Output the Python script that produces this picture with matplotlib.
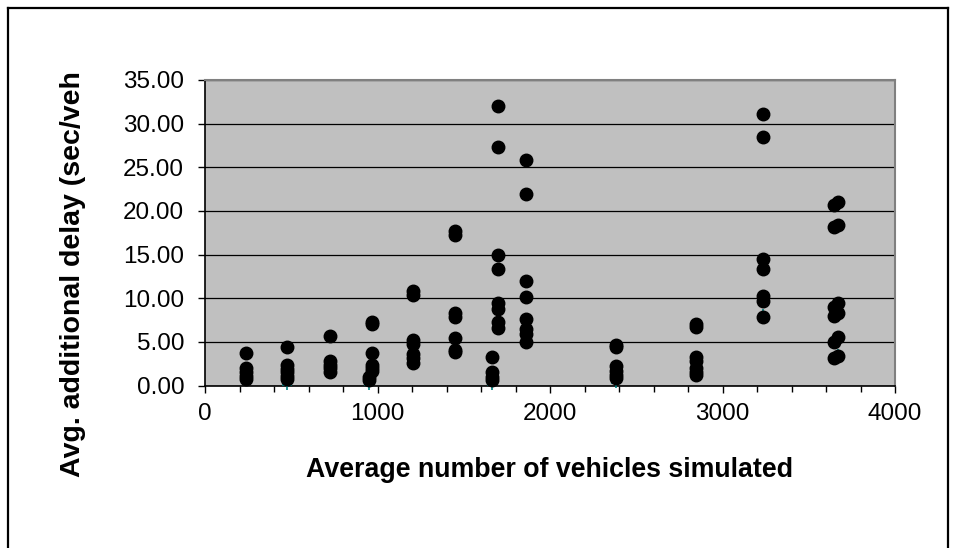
import matplotlib
matplotlib.use("Agg")
import matplotlib.pyplot as plt
from matplotlib.lines import Line2D
from matplotlib.transforms import Bbox
from matplotlib.ticker import MultipleLocator, FormatStrFormatter

plt.rcParams['font.family'] = ['Liberation Sans', 'DejaVu Sans']

# average number of vehicles simulated (x) and avg. additional delay (y)
x_236 = [236] * 5
y_236 = [3.75, 1.95, 1.5, 1.1, 0.8]
x_474 = [474] * 6
y_474 = [4.4, 2.3, 1.9, 1.5, 1.1, 0.7]
x_725 = [725] * 5
y_725 = [5.7, 2.8, 2.4, 2.0, 1.6]
x_950 = [950] * 2
y_950 = [1.0, 0.6]
x_968 = [968] * 6
y_968 = [7.3, 7.1, 3.7, 2.4, 2.0, 1.7]
x_1208 = [1208] * 7
y_1208 = [10.8, 10.4, 5.2, 4.8, 3.6, 3.1, 2.6]
x_1451 = [1451] * 7
y_1451 = [17.7, 17.2, 8.3, 7.8, 5.4, 4.1, 3.8]
x_1664 = [1664] * 4
y_1664 = [3.3, 1.5, 1.0, 0.6]
x_1697 = [1697] * 8
y_1697 = [32.0, 27.3, 15.0, 13.4, 9.5, 8.8, 7.3, 6.6]
x_1859 = [1859] * 8
y_1859 = [25.8, 21.9, 12.0, 10.1, 7.6, 6.5, 5.9, 5.0]
x_2381 = [2381] * 6
y_2381 = [4.6, 4.4, 2.2, 1.7, 1.2, 0.9]
x_2845 = [2845] * 7
y_2845 = [7.0, 6.7, 3.3, 2.8, 2.0, 1.5, 1.2]
x_3237 = [3237] * 7
y_3237 = [31.1, 28.5, 14.5, 13.4, 10.2, 9.7, 7.9]
x_3645 = [3645] * 6
y_3645 = [20.7, 18.2, 9.0, 8.0, 5.0, 3.2]
x_3668 = [3668] * 6
y_3668 = [21.0, 18.4, 9.5, 8.3, 5.6, 3.4]

# small teal markers (second series), mostly hidden behind the dots
x_teal = [474, 950, 1664, 2381, 2845, 3237, 3668]
y_teal = [0.05, 0.05, 0.05, 0.3, 1.2, 8.2, 3.6]

x_all = (x_236 + x_474 + x_725 + x_950 + x_968 + x_1208 + x_1451 + x_1664
         + x_1697 + x_1859 + x_2381 + x_2845 + x_3237 + x_3645 + x_3668)
y_all = (y_236 + y_474 + y_725 + y_950 + y_968 + y_1208 + y_1451 + y_1664
         + y_1697 + y_1859 + y_2381 + y_2845 + y_3237 + y_3645 + y_3668)

W, H = 956, 548
fig = plt.figure(figsize=(W / 100, H / 100), dpi=100)

ax = fig.add_axes([205 / W, 1 - 385.5 / H, 690 / W, 305.5 / H])
ax.set_facecolor('#c0c0c0')

ax.plot(x_teal, y_teal, linestyle='none', marker='+', markersize=7,
        markeredgewidth=1.2, color='#008080', zorder=3, clip_on=False)
ax.plot(x_all, y_all, linestyle='none', marker='o', markersize=9,
        color='black', zorder=4, clip_on=False)

ax.set_xlim(0, 4000)
ax.set_ylim(0, 35)
ax.xaxis.set_major_locator(MultipleLocator(1000))
ax.xaxis.set_minor_locator(MultipleLocator(200))
ax.yaxis.set_major_locator(MultipleLocator(5))
ax.yaxis.set_major_formatter(FormatStrFormatter('%.2f'))

ax.set_axisbelow(True)
ax.yaxis.grid(True, color='black', linewidth=0.9)

for s in ['top', 'right']:
    ax.spines[s].set_color('#808080')
    ax.spines[s].set_linewidth(1.5)
for s in ['left', 'bottom']:
    ax.spines[s].set_color('black')
    ax.spines[s].set_linewidth(1.2)

ax.tick_params(axis='y', which='major', direction='out', length=5, width=1,
               pad=10, labelsize=17.5)
ax.tick_params(axis='x', which='major', direction='out', length=5, width=1,
               pad=7.5, labelsize=17.5)
ax.tick_params(axis='x', which='minor', direction='out', length=4, width=1)

fig.text(550 / W, 1 - 470 / H, 'Average number of vehicles simulated',
         ha='center', va='center', fontsize=19.3, fontweight='bold')

ylab = fig.text(73 / W, 1 - 477 / H, 'Avg. additional delay (sec/veh)',
                rotation=90, rotation_mode='anchor', ha='left', va='center',
                fontsize=20.5, fontweight='bold')
ylab.set_clip_box(Bbox.from_extents(0, 0, W, H - 72))
ylab.set_clip_on(True)

# outer frame of the chart (bottom edge is off the picture)
fig.add_artist(Line2D([8 / W, 8 / W], [0, 1 - 8 / H], transform=fig.transFigure,
                      color='black', linewidth=1.6))
fig.add_artist(Line2D([8 / W, 948 / W], [1 - 8 / H, 1 - 8 / H], transform=fig.transFigure,
                      color='black', linewidth=1.6))
fig.add_artist(Line2D([948 / W, 948 / W], [0, 1 - 8 / H], transform=fig.transFigure,
                      color='black', linewidth=1.6))

fig.savefig('out.png', dpi=100)
